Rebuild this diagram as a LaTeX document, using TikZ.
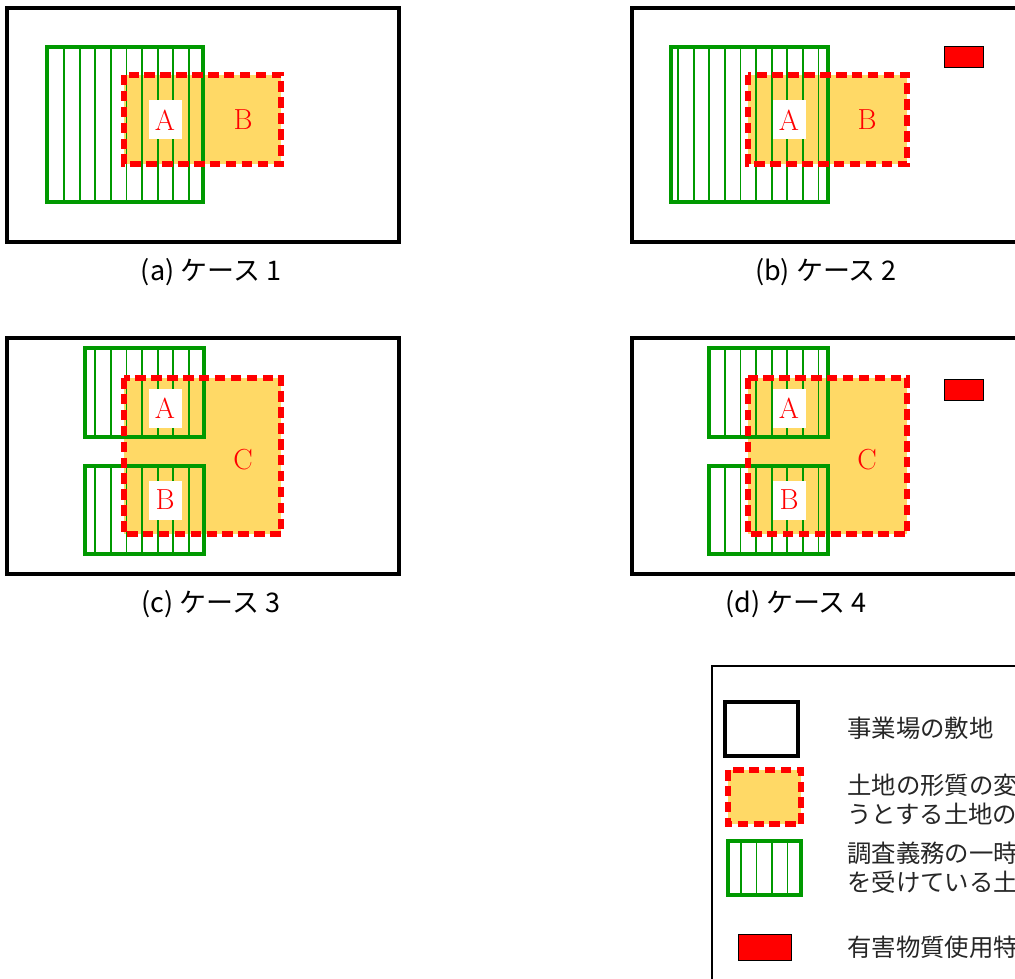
\documentclass[tikz,border=0pt]{standalone}
\usepackage{fontspec}
\newfontfamily\jpfont{Noto Sans CJK JP}
\definecolor{areafill}{HTML}{FFD966}
\definecolor{hatchgreen}{HTML}{009900}
\begin{document}
\begin{tikzpicture}[x=1pt, y=-1pt,
    site/.style={draw=black, line width=4pt},
    areafill/.style={fill=areafill},
    areaedge/.style={draw=red, line width=5.2pt, dash pattern=on 10.5pt off 5.4pt},
    hatchbox/.style={draw=hatchgreen, line width=4pt},
    hatchline/.style={draw=hatchgreen, line width=1.8pt},
    usemark/.style={draw=black, line width=1pt, fill=red},
    lbl/.style={text=red, inner sep=0pt, minimum width=33pt, minimum height=39pt, font=\fontsize{29}{29}\selectfont},
    lblw/.style={lbl, fill=white},
    casecap/.style={font=\jpfont\fontsize{27}{30}\selectfont},
    legtext/.style={anchor=west, inner sep=0pt, align=left, text=black!85, font=\jpfont\fontsize{24.4}{29}\selectfont}]
  \useasboundingbox (0,0) rectangle (1015,979);

  % (a) case 1
  \draw[site] (7,8) rectangle (399,242);
  \fill[areafill] (124,75) rectangle (281,164);
  \draw[hatchbox] (47,47) rectangle (203,202);
  \foreach \k in {0,...,8}
    \draw[hatchline] ({64+15.6*\k},47) -- ({64+15.6*\k},202);
  \draw[areaedge] (124,75) rectangle (281,164);
  \node[lblw] (a-A) at (165,120) {A};
  \node[lbl] (a-B) at (243,120) {B};
  \node[casecap] (cap-a) at (211,272) {(a) ケース 1};

  % (b) case 2
  \draw[site] (632,8) rectangle (1024,242);
  \fill[areafill] (748,75) rectangle (907,164);
  \draw[hatchbox] (671,47) rectangle (828,202);
  \foreach \k in {0,...,9}
    \draw[hatchline] ({678+15.6*\k},47) -- ({678+15.6*\k},202);
  \draw[areaedge] (748,75) rectangle (907,164);
  \draw[usemark] (944,47) rectangle (983,68);
  \node[lblw] (b-A) at (789,120) {A};
  \node[lbl] (b-B) at (867,120) {B};
  \node[casecap] (cap-b) at (826,272) {(b) ケース 2};

  % (c) case 3
  \draw[site] (7,338) rectangle (399,574);
  \fill[areafill] (124,378) rectangle (281,534);
  \foreach \y/\z in {348/437, 466/554} {
    \draw[hatchbox] (85,\y) rectangle (204,\z);
    \foreach \k in {2,...,8}
      \draw[hatchline] ({64+15.6*\k},\y) -- ({64+15.6*\k},\z);
  }
  \draw[areaedge] (124,378) rectangle (281,534);
  \node[lblw] (c-A) at (165,408) {A};
  \node[lblw] (c-B) at (165,500) {B};
  \node[lbl] (c-C) at (243,460) {C};
  \node[casecap] (cap-c) at (211,604) {(c) ケース 3};

  % (d) case 4
  \draw[site] (632,338) rectangle (1024,574);
  \fill[areafill] (748,378) rectangle (907,534);
  \foreach \y/\z in {348/437, 466/554} {
    \draw[hatchbox] (709,\y) rectangle (828,\z);
    \foreach \k in {3,...,9}
      \draw[hatchline] ({678+15.6*\k},\y) -- ({678+15.6*\k},\z);
  }
  \draw[areaedge] (748,378) rectangle (907,534);
  \draw[usemark] (944,379) rectangle (983,400);
  \node[lblw] (d-A) at (789,408) {A};
  \node[lblw] (d-B) at (789,500) {B};
  \node[lbl] (d-C) at (867,460) {C};
  \node[casecap] (cap-d) at (796,604) {(d) ケース 4};

  % legend
  \draw[black, line width=1.5pt] (712,666) rectangle (1030,1000);
  \draw[site, line width=3.5pt] (725,702) rectangle (798,756);
  \fill[areafill] (728,770) rectangle (801,824);
  \draw[areaedge] (728,770) rectangle (801,824);
  \draw[hatchbox] (728,841) rectangle (801,895);
  \foreach \k in {0,...,3}
    \draw[hatchline] ({741+15.5*\k},841) -- ({741+15.5*\k},895);
  \draw[usemark] (738,934) rectangle (791,960);
  \node[legtext] (leg-site) at (847,728) {事業場の敷地};
  \node[legtext] (leg-area) at (847,799) {土地の形質の変\\うとする土地の};
  \node[legtext] (leg-hatch) at (847,868) {調査義務の一時\\を受けている土};
  \node[legtext] (leg-mark) at (847,947) {有害物質使用特};
\end{tikzpicture}
\end{document}
